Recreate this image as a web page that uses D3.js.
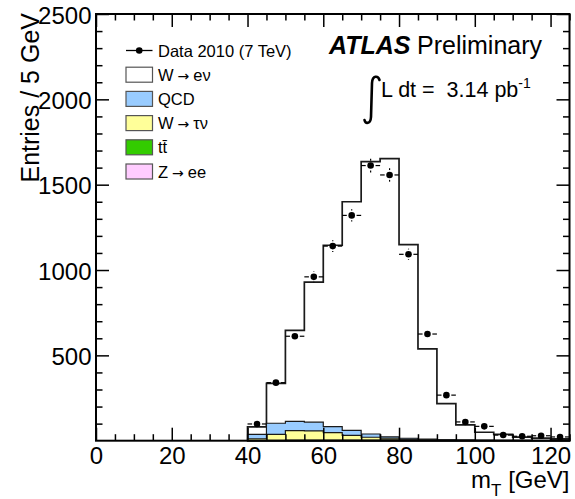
<!DOCTYPE html>
<html>
<head>
<meta charset="utf-8">
<script src="https://cdn.jsdelivr.net/npm/d3@7/dist/d3.min.js"></script>
<style>
  body { margin: 0; background: #fff; }
  text { font-family: "Liberation Sans", Arial, Helvetica, sans-serif; fill: #000; }
</style>
</head>
<body>
<div id="chart"></div>
<script>
"use strict";

// bins of 5 GeV, lower edges
let binLow = [40, 45, 50, 55, 60, 65, 70, 75, 80, 85, 90, 95, 100, 105, 110, 115, 120];
let binWidth = 5;

// data 2010
let dataCounts = [98, 340, 612, 960, 1140, 1320, 1612, 1557, 1092, 625, 267, 110, 84, 33, 26, 29, 22];

// MC components (stacked bottom -> top: Z->ee, ttbar, W->tau nu, QCD, W->e nu)
let zee   = [0.5, 0.8, 1, 1, 1, 1, 1.2, 1.5, 2, 1.5, 1, 0.8, 0.5, 0.4, 0.3, 0.3, 0.2];
let ttbar = [1, 1.5, 2, 2.5, 3, 3, 3, 3, 2.5, 2, 1.5, 1, 0.8, 0.6, 0.5, 0.4, 0.3];
let wtau  = [10, 35, 56, 54, 43, 27, 16, 10, 4, 2, 1, 0.5, 0.3, 0.2, 0.1, 0.1, 0];
let qcd   = [25, 65, 54, 51, 35, 30, 19, 8, 6, 4, 2, 1, 1, 0.5, 0.5, 0.5, 0.3];
let wenu  = [45, 234, 533, 820, 1063, 1339, 1596, 1630, 1134, 529, 212, 89, 47, 35, 19, 14, 10];

let xMajor = [0, 20, 40, 60, 80, 100, 120];
let yMajor = [500, 1000, 1500, 2000, 2500];

// legend labels split as [before arrow, after arrow] ("" = no arrow)
let legendLabels = [["W", "e\u03BD"], ["QCD", ""], ["W", "\u03C4\u03BD"], ["tt\u0304", ""], ["Z", "ee"]];
let legendColors = ["#ffffff", "#99ccff", "#ffff99", "#33cc00", "#ffccff"];

let width = 575, height = 499;
let frame = { left: 96, right: 569.5, top: 14, bottom: 440.7 };

let svg = d3.select("#chart").append("svg")
  .attr("width", width)
  .attr("height", height)
  .attr("viewBox", [0, 0, width, height].join(" "));

let x = d3.scaleLinear().domain([0, 125]).range([frame.left, frame.right]);
let y = d3.scaleLinear().domain([0, 2500]).range([frame.bottom, frame.top]);

// stack layers, bottom first
let layers = [
  { vals: zee, color: legendColors[4] },
  { vals: ttbar, color: legendColors[3] },
  { vals: wtau, color: legendColors[2] },
  { vals: qcd, color: legendColors[1] },
  { vals: wenu, color: legendColors[0] }
];
let running = binLow.map(() => 0);
layers.forEach(l => {
  running = running.map((r, i) => r + l.vals[i]);
  l.top = running.slice();
});

function stepPoints(tops) {
  let pts = [[binLow[0], 0]];
  tops.forEach((v, i) => {
    pts.push([binLow[i], v]);
    pts.push([binLow[i] + binWidth, v]);
  });
  pts.push([binLow[binLow.length - 1] + binWidth, 0]);
  return pts;
}

let line = d3.line().x(d => x(d[0])).y(d => y(d[1]));

// draw top layer first, lower ones over it (like THStack)
let histG = svg.append("g");
layers.slice().reverse().forEach((l, k) => {
  histG.append("path")
    .attr("d", line(stepPoints(l.top)) + "Z")
    .attr("fill", l.color)
    .attr("stroke", "#1a1a1a")
    .attr("stroke-width", k === 0 ? 1.7 : 1.2)
    .attr("stroke-linejoin", "miter");
});

// data points with error bars
let r = 3.3, gap = 1.6;
let dataG = svg.append("g");
binLow.forEach((lo, i) => {
  let n = dataCounts[i];
  let cx = x(lo + binWidth / 2), cy = y(n);
  let x0 = x(lo), x1 = x(lo + binWidth);
  let err = Math.sqrt(n);
  let segs = [
    [x0, cy, cx - r - gap, cy],
    [cx + r + gap, cy, x1, cy]
  ];
  let yUp = y(n + err), yDn = y(n - err);
  if (cy - yUp > r + gap) segs.push([cx, yUp, cx, cy - r - gap]);
  if (yDn - cy > r + gap) segs.push([cx, cy + r + gap, cx, yDn]);
  segs.forEach(s => {
    dataG.append("line")
      .attr("x1", s[0]).attr("y1", s[1]).attr("x2", s[2]).attr("y2", s[3])
      .attr("stroke", "#000").attr("stroke-width", 1.2);
  });
  dataG.append("circle").attr("cx", cx).attr("cy", cy).attr("r", r).attr("fill", "#000");
});

// axes: ticks on all four sides
let fs = 24;
function styleAxis(g) {
  g.select(".domain").remove();
  g.selectAll(".tick line").attr("stroke", "#000").attr("stroke-width", 1.5);
  g.selectAll(".tick text").attr("font-size", fs).attr("fill", "#000")
    .attr("font-family", "'Liberation Sans', Arial, Helvetica, sans-serif");
}

let xMinor = d3.range(0, 126, 5).filter(v => xMajor.indexOf(v) < 0);
let yMinor = d3.range(0, 2501, 100).filter(v => yMajor.indexOf(v) < 0 && v > 0);

svg.append("g").attr("transform", `translate(0,${frame.bottom})`)
  .call(d3.axisBottom(x).tickValues(xMajor).tickSize(-13).tickPadding(6).tickFormat(d3.format("d")))
  .call(styleAxis);
svg.append("g").attr("transform", `translate(0,${frame.bottom})`)
  .call(d3.axisBottom(x).tickValues(xMinor).tickSize(-6.5).tickFormat(""))
  .call(styleAxis);
svg.append("g").attr("transform", `translate(0,${frame.top})`)
  .call(d3.axisTop(x).tickValues(xMajor).tickSize(-13).tickFormat(""))
  .call(styleAxis);
svg.append("g").attr("transform", `translate(0,${frame.top})`)
  .call(d3.axisTop(x).tickValues(xMinor).tickSize(-6.5).tickFormat(""))
  .call(styleAxis);

svg.append("g").attr("transform", `translate(${frame.left},0)`)
  .call(d3.axisLeft(y).tickValues(yMajor).tickSize(-13).tickPadding(4.5).tickFormat(d3.format("d")))
  .call(styleAxis)
  .selectAll(".tick text").attr("dy", "0.38em");
svg.append("g").attr("transform", `translate(${frame.left},0)`)
  .call(d3.axisLeft(y).tickValues(yMinor).tickSize(-6.5).tickFormat(""))
  .call(styleAxis);
svg.append("g").attr("transform", `translate(${frame.right},0)`)
  .call(d3.axisRight(y).tickValues(yMajor).tickSize(-13).tickFormat(""))
  .call(styleAxis);
svg.append("g").attr("transform", `translate(${frame.right},0)`)
  .call(d3.axisRight(y).tickValues(yMinor).tickSize(-6.5).tickFormat(""))
  .call(styleAxis);

// frame
svg.append("rect")
  .attr("x", frame.left).attr("y", frame.top)
  .attr("width", frame.right - frame.left).attr("height", frame.bottom - frame.top)
  .attr("fill", "none").attr("stroke", "#000").attr("stroke-width", 2);

// axis titles
let xTitle = svg.append("text")
  .attr("x", frame.right).attr("y", 488)
  .attr("text-anchor", "end").attr("font-size", fs);
xTitle.append("tspan").text("m");
xTitle.append("tspan").attr("font-size", 17).attr("dy", 8).text("T");
xTitle.append("tspan").attr("dy", -8).text(" [GeV]");

svg.append("text")
  .attr("transform", `translate(38.5,${frame.top - 1}) rotate(-90)`)
  .attr("text-anchor", "end").attr("font-size", 25)
  .text("Entries / 5 GeV");

// legend
let legX = 126, legW = 26.5, legH = 15, legTextX = 158, legY0 = 50.5, legStep = 24.2;
let legG = svg.append("g");
legG.append("line")
  .attr("x1", legX).attr("x2", legX + legW).attr("y1", legY0).attr("y2", legY0)
  .attr("stroke", "#000").attr("stroke-width", 1.3);
legG.append("circle").attr("cx", legX + legW / 2).attr("cy", legY0).attr("r", r).attr("fill", "#000");
legG.append("text").attr("x", legTextX).attr("y", legY0 + 6).attr("font-size", 16.5)
  .text("Data 2010 (7 TeV)");

legendLabels.forEach((lab, i) => {
  let cy = legY0 + legStep * (i + 1);
  legG.append("rect")
    .attr("x", legX).attr("y", cy - legH / 2).attr("width", legW).attr("height", legH)
    .attr("fill", legendColors[i]).attr("stroke", "#555").attr("stroke-width", 1.2);
  let t = legG.append("text").attr("x", legTextX).attr("y", cy + 6).attr("font-size", 16.5);
  t.append("tspan").text(lab[0]);
  if (lab[1]) {
    t.append("tspan").attr("dx", 4).attr("font-family", "'DejaVu Sans', sans-serif")
      .attr("font-size", 14).text("\u2192");
    t.append("tspan").attr("dx", 4).text(lab[1]);
  }
});

// ATLAS label
svg.append("text").attr("x", 329).attr("y", 54).attr("font-size", 25)
  .attr("font-weight", "bold").attr("font-style", "italic").text("ATLAS");
svg.append("text").attr("x", 417).attr("y", 54).attr("font-size", 25).text("Preliminary");

// luminosity
svg.append("path")
  .attr("d", "M379.5,80 C378,75.5 372.5,75 372,83 L371,117 C370.5,124.5 365.5,124 364.5,120")
  .attr("fill", "none").attr("stroke", "#000").attr("stroke-width", 2.6).attr("stroke-linecap", "round");
let lumi = svg.append("text").attr("x", 381).attr("y", 97).attr("font-size", 21.5);
lumi.append("tspan").text("L dt =");
lumi.append("tspan").attr("dx", 12).text("3.14 pb");
lumi.append("tspan").attr("font-size", 14).attr("dy", -9).text("-1");
</script>
</body>
</html>
